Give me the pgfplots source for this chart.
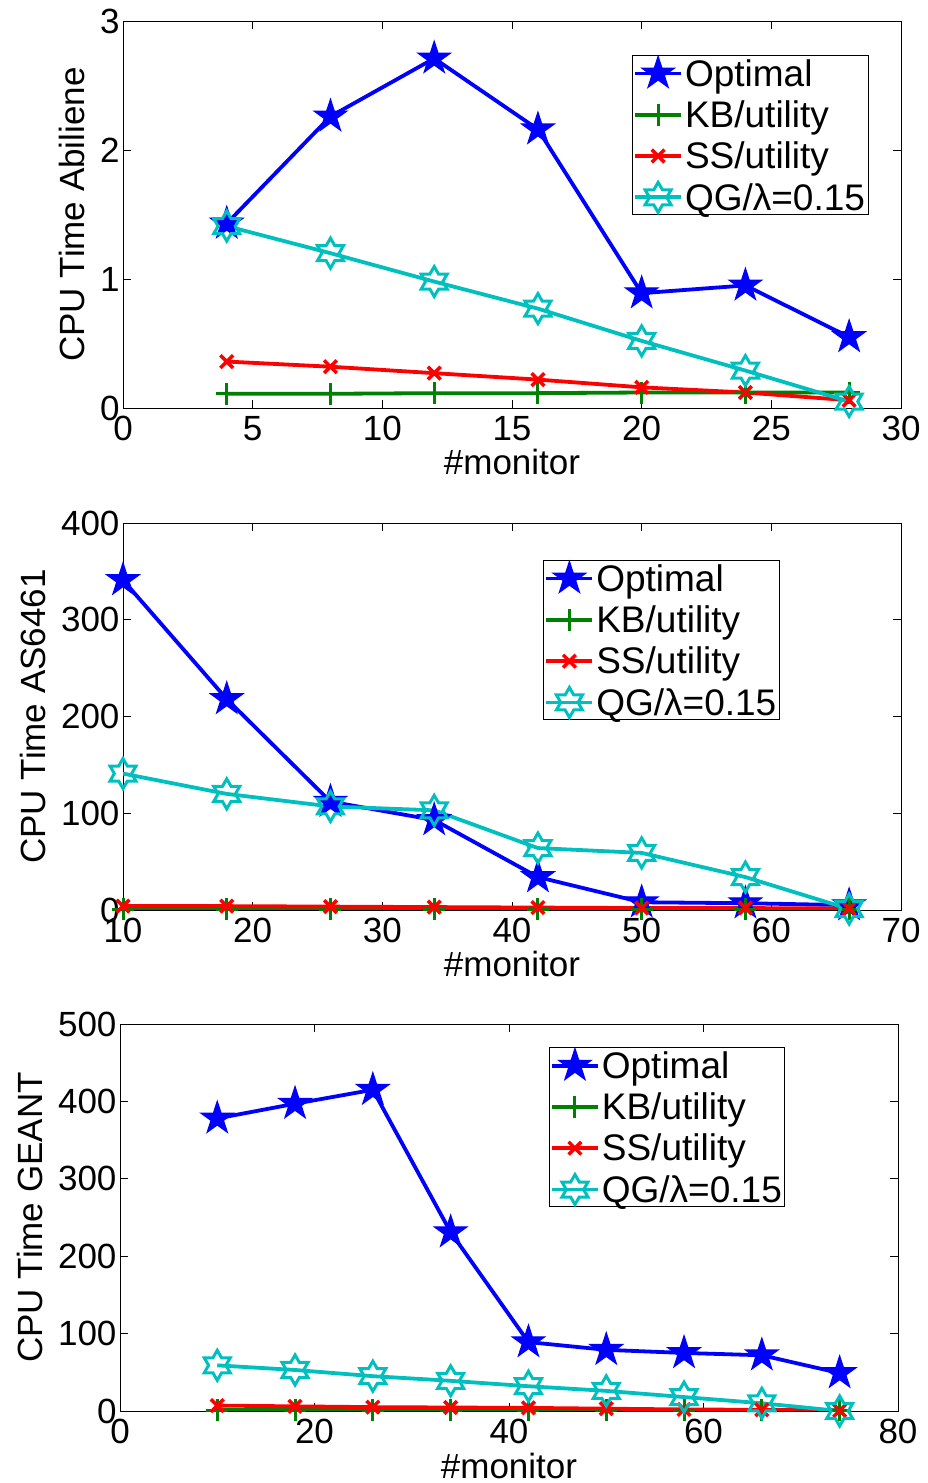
\documentclass[border=0pt]{standalone}
\usepackage{fontspec}
\setmainfont{Liberation Sans}
\usepackage{pgfplots}
\pgfplotsset{compat=1.18}

\definecolor{mblue}{RGB}{0,0,255}
\definecolor{mgreen}{RGB}{0,128,0}
\definecolor{mred}{RGB}{255,0,0}
\definecolor{mcyan}{RGB}{0,191,191}

\newcommand{\fs}{\fontsize{35}{40}\selectfont}
\newcommand{\fl}{\fontsize{37}{42}\selectfont}

% filled five-pointed star
\pgfdeclareplotmark{pentagram}{%
  \pgfpathmoveto{\pgfpointpolar{90}{\pgfplotmarksize}}%
  \pgfpathlineto{\pgfpointpolar{126}{0.382*\pgfplotmarksize}}%
  \pgfpathlineto{\pgfpointpolar{162}{\pgfplotmarksize}}%
  \pgfpathlineto{\pgfpointpolar{198}{0.382*\pgfplotmarksize}}%
  \pgfpathlineto{\pgfpointpolar{234}{\pgfplotmarksize}}%
  \pgfpathlineto{\pgfpointpolar{270}{0.382*\pgfplotmarksize}}%
  \pgfpathlineto{\pgfpointpolar{306}{\pgfplotmarksize}}%
  \pgfpathlineto{\pgfpointpolar{342}{0.382*\pgfplotmarksize}}%
  \pgfpathlineto{\pgfpointpolar{18}{\pgfplotmarksize}}%
  \pgfpathlineto{\pgfpointpolar{54}{0.382*\pgfplotmarksize}}%
  \pgfpathclose
  \pgfusepathqfillstroke
}
% open six-pointed star
\pgfdeclareplotmark{hexagram}{%
  \pgfpathmoveto{\pgfpointpolar{90}{\pgfplotmarksize}}%
  \pgfpathlineto{\pgfpointpolar{120}{0.577*\pgfplotmarksize}}%
  \pgfpathlineto{\pgfpointpolar{150}{\pgfplotmarksize}}%
  \pgfpathlineto{\pgfpointpolar{180}{0.577*\pgfplotmarksize}}%
  \pgfpathlineto{\pgfpointpolar{210}{\pgfplotmarksize}}%
  \pgfpathlineto{\pgfpointpolar{240}{0.577*\pgfplotmarksize}}%
  \pgfpathlineto{\pgfpointpolar{270}{\pgfplotmarksize}}%
  \pgfpathlineto{\pgfpointpolar{300}{0.577*\pgfplotmarksize}}%
  \pgfpathlineto{\pgfpointpolar{330}{\pgfplotmarksize}}%
  \pgfpathlineto{\pgfpointpolar{0}{0.577*\pgfplotmarksize}}%
  \pgfpathlineto{\pgfpointpolar{30}{\pgfplotmarksize}}%
  \pgfpathlineto{\pgfpointpolar{60}{0.577*\pgfplotmarksize}}%
  \pgfpathclose
  \pgfusepathqstroke
}

\pgfplotsset{
  cpu/.style={
    scale only axis, width=778pt, height=387pt,
    tick align=inside, major tick length=8pt,
    tick style={black, line width=0.8pt},
    axis line style={line width=0.8pt},
    ticklabel style={font=\fs},
    xticklabel style={yshift=-7pt, text depth=0pt, inner sep=1pt},
    label style={font=\fs},
    xlabel style={at={(axis description cs:0.5,0)}, anchor=base, yshift=-67pt, inner sep=0pt},
    ylabel shift=8pt,
    /pgf/number format/assume math mode=true,
    scaled ticks=false,
    xlabel={\#monitor},
    legend cell align=left,
    legend style={draw=black, line width=0.8pt, font=\fl, anchor=north west,
      inner sep=1pt, row sep=9pt},
    legend image code/.code={%
      \draw[mark repeat=2,mark phase=2] plot coordinates {(0pt,0pt) (23pt,0pt) (46pt,0pt)};},
  },
  sopt/.style={mblue, line width=3.8pt, mark=pentagram, mark size=17pt, mark options={fill=mblue, line width=1.2pt}},
  skb/.style={mgreen, line width=3.8pt, mark=+, mark size=11pt, mark options={line width=3pt}},
  sss/.style={mred, line width=3.8pt, mark=x, mark size=9pt, mark options={line width=3.5pt}},
  sqg/.style={mcyan, line width=3.8pt, mark=hexagram, mark size=15pt, mark options={line width=3pt}},
}

\begin{document}
\begin{tikzpicture}
\useasboundingbox (0,0) rectangle (927pt,1483pt);

% Abilene
\begin{axis}[cpu, at={(123pt,1075pt)}, anchor=south west,
  xmin=0, xmax=30, ymin=0, ymax=3, xtick={0,5,...,30}, ytick={0,1,2,3},
  ylabel={CPU Time Abiliene},
  legend style={at={(0.654,0.912)}}]
\addplot[sopt] coordinates {(4,1.43) (8,2.26) (12,2.71) (16,2.16) (20,0.89) (24,0.95) (28,0.55)};
\addplot[skb] coordinates {(4,0.11) (8,0.11) (12,0.115) (16,0.115) (20,0.12) (24,0.12) (28,0.12)};
\addplot[sss] coordinates {(4,0.36) (8,0.32) (12,0.27) (16,0.22) (20,0.16) (24,0.12) (28,0.06)};
\addplot[sqg] coordinates {(4,1.41) (8,1.20) (12,0.98) (16,0.77) (20,0.52) (24,0.29) (28,0.05)};
\legend{Optimal, KB/utility, SS/utility, QG/λ=0.15}
\end{axis}

% AS6461
\begin{axis}[cpu, at={(123pt,573pt)}, anchor=south west,
  xmin=10, xmax=70, ymin=0, ymax=400, xtick={10,20,...,70}, ytick={0,100,200,300,400},
  ylabel={CPU Time AS6461},
  legend style={at={(0.54,0.904)}}]
\addplot[sopt] coordinates {(10,341) (18,218) (26,112) (34,93) (42,34) (50,8) (58,7) (66,5)};
\addplot[skb] coordinates {(10,1) (18,1) (26,1) (34,1) (42,1) (50,1) (58,1) (66,1)};
\addplot[sss] coordinates {(10,4) (18,4) (26,3.5) (34,3) (42,2.5) (50,2) (58,2) (66,1.5)};
\addplot[sqg] coordinates {(10,141) (18,120) (26,107) (34,103) (42,64) (50,59) (58,34) (66,1)};
\legend{Optimal, KB/utility, SS/utility, QG/λ=0.15}
\end{axis}

% GEANT
\begin{axis}[cpu, at={(120pt,72pt)}, anchor=south west,
  xmin=0, xmax=80, ymin=0, ymax=500, xtick={0,20,...,80}, ytick={0,100,...,500},
  ylabel={CPU Time GEANT},
  legend style={at={(0.551,0.94)}}]
\addplot[sopt] coordinates {(10,378) (18,397) (26,415) (34,231) (42,89) (50,79) (58,75) (66,72) (74,49)};
\addplot[skb] coordinates {(10,1) (18,1) (26,1) (34,1) (42,1) (50,1) (58,1) (66,1) (74,1)};
\addplot[sss] coordinates {(10,7) (18,6) (26,5) (34,4.5) (42,4) (50,3) (58,2) (66,1.5) (74,0.5)};
\addplot[sqg] coordinates {(10,59) (18,53) (26,45) (34,39) (42,32) (50,26) (58,18) (66,10) (74,0)};
\legend{Optimal, KB/utility, SS/utility, QG/λ=0.15}
\end{axis}
\end{tikzpicture}
\end{document}
